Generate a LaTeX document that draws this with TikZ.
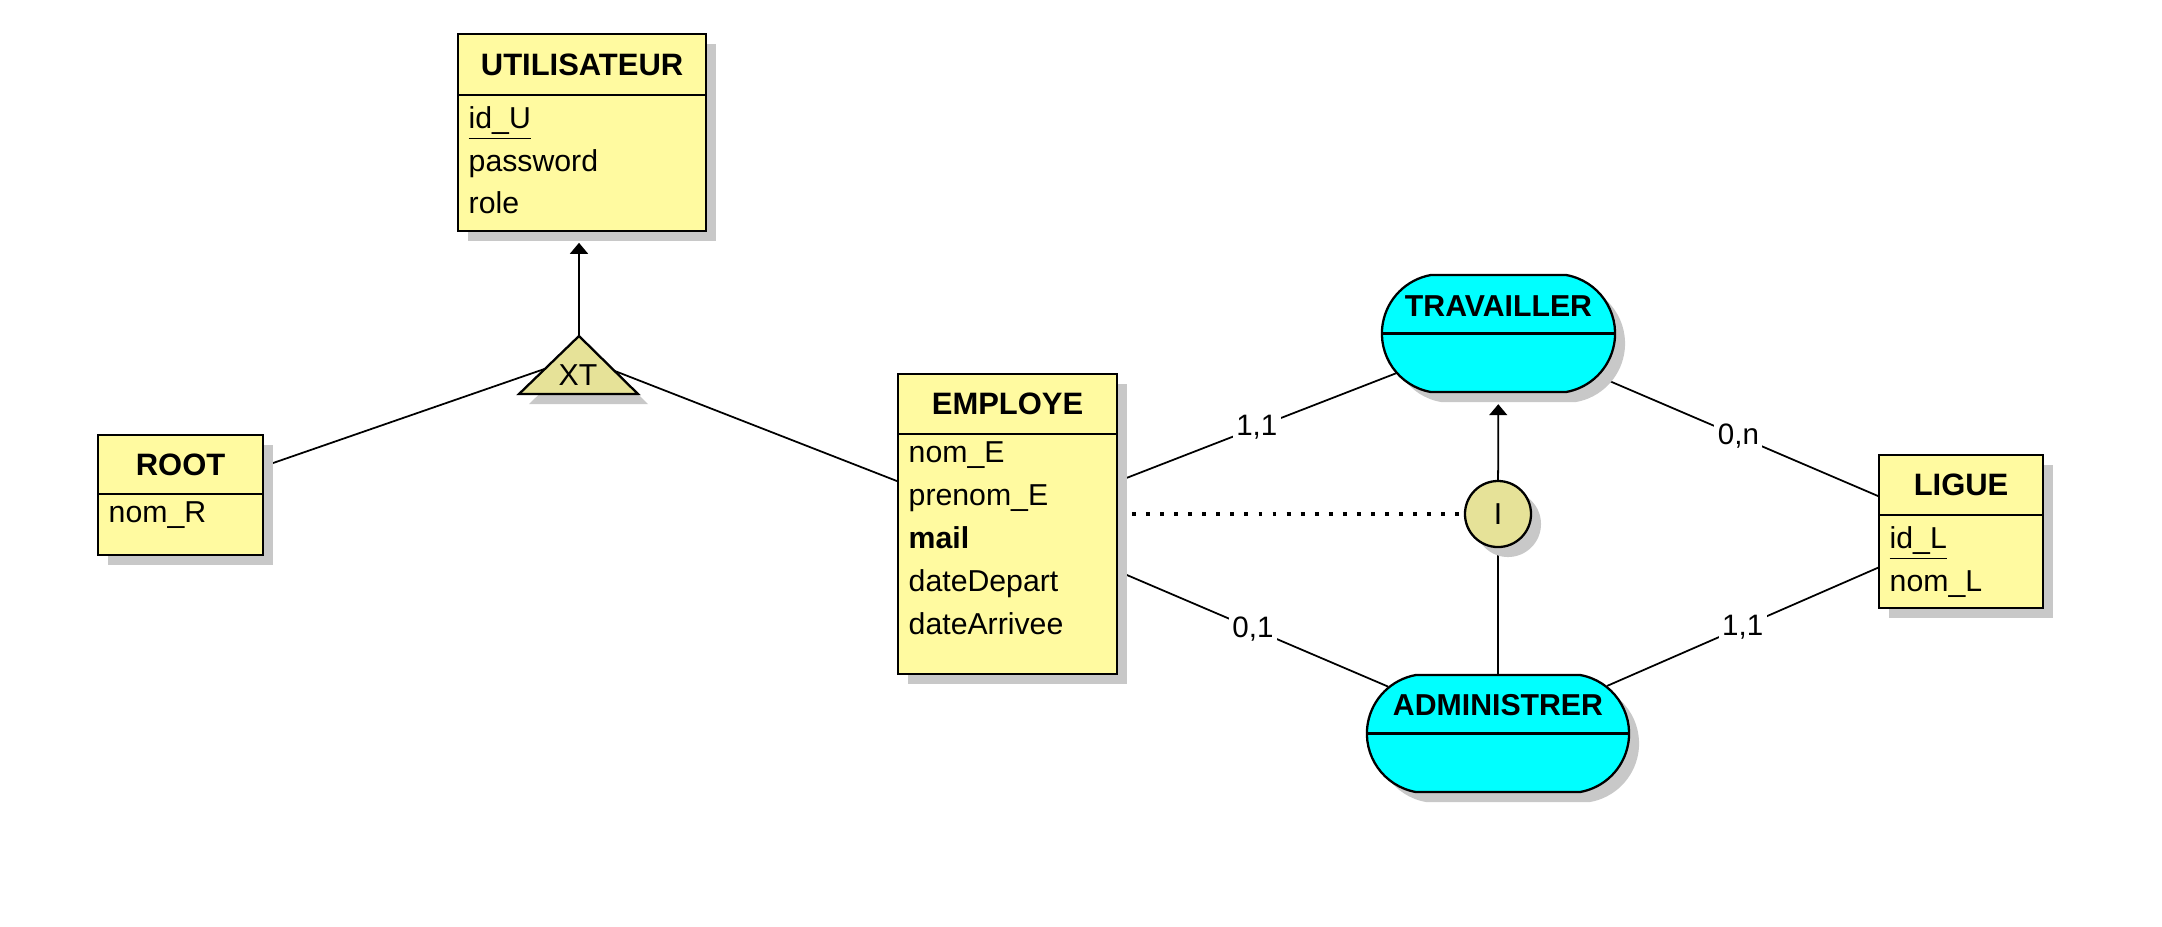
\documentclass[tikz,border=0pt]{standalone}
\usepackage{fontspec}
\setmainfont{Liberation Sans}
\usetikzlibrary{positioning, fit, calc, shapes.misc, shadows, backgrounds, arrows.meta}

\definecolor{entyellow}{RGB}{255,250,160}
\definecolor{relcyan}{RGB}{0,255,255}
\definecolor{genkhaki}{RGB}{230,226,152}
\definecolor{shadowgray}{RGB}{200,200,200}

\newcommand{\pkey}[1]{\underline{\smash{#1}\rule[-1.6pt]{0pt}{8.8pt}}}

\tikzset{
  boxshadow/.style={drop shadow={shadow xshift=0.1cm, shadow yshift=-0.1cm, fill=shadowgray, opacity=1}},
  ehead/.style={draw, line width=0.65pt, fill=entyellow, boxshadow, inner sep=0pt, outer sep=0pt,
    anchor=north west, font=\bfseries\fontsize{8.8}{10}\selectfont},
  ebody/.style={draw, line width=0.65pt, fill=entyellow, boxshadow, inner sep=0pt, outer sep=0pt},
  attr/.style={align=left, inner xsep=0.1cm, inner ysep=2pt, anchor=north west,
    font=\fontsize{8.6}{12.2}\selectfont},
  relation/.style={rounded rectangle, rounded rectangle arc length=160, draw, line width=0.65pt,
    fill=relcyan, boxshadow, inner sep=0pt, minimum height=1.17cm},
  rtitle/.style={anchor=base, font=\bfseries\fontsize{8.6}{10}\selectfont},
  gen/.style={draw, line width=0.65pt, fill=genkhaki, boxshadow},
  link/.style={line width=0.5pt},
  isa/.style={line width=0.5pt, -{Triangle[width=0.18cm,length=0.11cm]}, shorten >=0.11cm},
  card/.style={fill=white, inner sep=1pt, font=\fontsize{8.4}{10}\selectfont},
  weak/.style={line width=1pt, dash pattern=on 1.1pt off 2.9pt}
}

\begin{document}
\begin{tikzpicture}[x=0.01cm, y=-0.01cm, node distance=0pt]
    \useasboundingbox (0,0) rectangle (2162,926);

    % entities
    \node[ehead, minimum width=2.48cm, minimum height=0.61cm] (utilH) at (458,34) {UTILISATEUR};
    \node[ebody, minimum width=2.48cm, minimum height=1.36cm, below=of utilH] (utilB) {};
    \node[attr] (utilA) at (utilB.north west) {\pkey{id\_U}\\password\\role};
    \node[fit=(utilH)(utilB), inner sep=0pt] (util) {};

    \node[ehead, minimum width=1.65cm, minimum height=0.59cm] (rootH) at (98,435) {ROOT};
    \node[ebody, minimum width=1.65cm, minimum height=0.61cm, below=of rootH] (rootB) {};
    \node[attr] (rootA) at (rootB.north west) {nom\_R};
    \node[fit=(rootH)(rootB), inner sep=0pt] (root) {};

    \node[ehead, minimum width=2.19cm, minimum height=0.60cm] (emplH) at (898,374) {EMPLOYE};
    \node[ebody, minimum width=2.19cm, minimum height=2.40cm, below=of emplH] (emplB) {};
    \node[attr] (emplA) at (emplB.north west) {nom\_E\\prenom\_E\\\textbf{mail}\\dateDepart\\dateArrivee};
    \node[fit=(emplH)(emplB), inner sep=0pt] (empl) {};

    \node[ehead, minimum width=1.64cm, minimum height=0.60cm] (ligueH) at (1879,455) {LIGUE};
    \node[ebody, minimum width=1.64cm, minimum height=0.93cm, below=of ligueH] (ligueB) {};
    \node[attr] (ligueA) at (ligueB.north west) {\pkey{id\_L}\\nom\_L};
    \node[fit=(ligueH)(ligueB), inner sep=0pt] (ligue) {};

    % associations
    \node[relation, minimum width=2.33cm] (trav) at (1498.5,333.5) {};
    \draw[line width=0.65pt] (trav.west) -- (trav.east);
    \node[rtitle] (travT) at ([yshift=0.17cm]trav.center) {TRAVAILLER};

    \node[relation, minimum width=2.62cm] (admin) at (1498,733.5) {};
    \draw[line width=0.65pt] (admin.west) -- (admin.east);
    \node[rtitle] (adminT) at ([yshift=0.18cm]admin.center) {ADMINISTRER};

    % heritage XT and inclusion I
    \coordinate (xt) at (579,357);
    \coordinate (xtTop) at (579,336);
    \path[gen] (xtTop) -- (638,394) -- (519,394) -- cycle;
    \node[font=\fontsize{8.6}{10}\selectfont] (xtT) at (578,375) {XT};

    \node[gen, circle, minimum size=0.66cm, inner sep=0pt, font=\fontsize{8.6}{10}\selectfont] (inher) at (1498,514) {I};

    \begin{pgfonlayer}{background}
      \draw[link] (root) -- (xt);
      \draw[link] (empl) -- (xt);
      \draw[isa] (xtTop) -- (xtTop |- util.south);
      \draw[link] (empl) -- node[card] {1,1} (trav);
      \draw[link] (empl) -- node[card] {0,1} (admin);
      \draw[link] (trav) -- node[card] {0,n} (ligue);
      \draw[link] (admin) -- node[card] {1,1} (ligue);
      \draw[weak] (inher -| empl.east) -- (inher);
      \draw[isa] (inher) -- (trav);
      \draw[link] (inher) -- (admin);
    \end{pgfonlayer}
\end{tikzpicture}
\end{document}
